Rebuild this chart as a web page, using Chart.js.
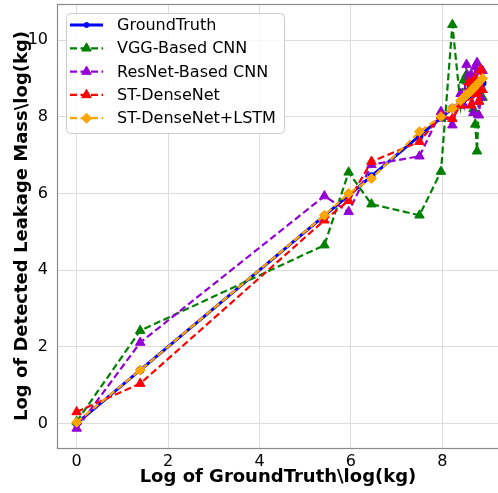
<!DOCTYPE html>
<html>
<head>
<meta charset="utf-8">
<script src="https://cdn.jsdelivr.net/npm/chart.js@4/dist/chart.umd.min.js"></script>
<style>
  html, body { margin: 0; padding: 0; background: #fff; overflow: hidden; }
  #wrap { width: 498px; height: 493px; overflow: hidden; position: relative; }
  /* canvas is a little larger than the view so the plot frame reaches the edges */
  #chart { display: block; position: absolute; left: 0; top: -3px; }
</style>
</head>
<body>
<div id="wrap"><canvas id="chart" width="506" height="496"></canvas></div>
<script>
// log of true leak mass, shared x for every model
const logTruth = [0, 1.39, 5.42, 5.95, 6.45, 7.5, 7.97, 8.22, 8.4, 8.47, 8.53, 8.58, 8.63, 8.68, 8.72, 8.76, 8.8, 8.84, 8.88];

// detected log mass per model
const groundTruth = logTruth.slice();
const vggCnn = [0.05, 2.42, 4.65, 6.55, 5.72, 5.43, 6.57, 10.4, 8.3, 8.95, 9.1, 8.6, 8.8, 8.2, 7.8, 7.1, 8.4, 8.7, 8.5];
const resnetCnn = [-0.13, 2.11, 5.93, 5.52, 6.75, 6.97, 8.13, 7.78, 8.6, 8.3, 9.36, 8.9, 9.1, 8.1, 9.3, 9.41, 8.04, 8.5, 9.2];
const stDenseNet = [0.3, 1.04, 5.3, 5.81, 6.83, 7.35, 8.02, 7.95, 8.3, 8.5, 8.6, 8.9, 8.3, 8.8, 9.0, 8.6, 8.4, 9.22, 8.7];
const stDenseLstm = [0.03, 1.39, 5.43, 6.0, 6.39, 7.61, 8.0, 8.22, 8.42, 8.5, 8.57, 8.62, 8.68, 8.74, 8.8, 8.85, 8.9, 8.95, 9.0];

const seriesNames = ["GroundTruth", "VGG-Based CNN", "ResNet-Based CNN", "ST-DenseNet", "ST-DenseNet+LSTM"];

const xTicks = [0, 2, 4, 6, 8];
const yTicks = [0, 2, 4, 6, 8, 10];

const FONT = "'DejaVu Sans', sans-serif";
const SHIFT = 3; // canvas sits 3px above the view

function pts(ys) {
  return ys.map((y, i) => ({ x: logTruth[i], y: y }));
}

function dashed(label, ys, color, marker, radius, order) {
  return {
    label: label,
    data: pts(ys),
    borderColor: color,
    backgroundColor: color,
    borderWidth: 2.2,
    borderDash: [7, 3.5],
    pointStyle: marker,
    pointRadius: radius,
    pointBorderWidth: 1,
    showLine: true,
    tension: 0,
    order: order
  };
}

// legend drawn inside the plot, upper left
const innerLegend = {
  id: "innerLegend",
  afterDraw(chart) {
    const ctx = chart.ctx;
    const sets = chart.data.datasets;
    const x0 = 66, y0 = 13 + SHIFT, w = 218, h = 120;
    ctx.save();
    ctx.setLineDash([]);
    ctx.beginPath();
    ctx.roundRect(x0 + 0.5, y0 + 0.5, w, h, 4);
    ctx.fillStyle = "rgba(255,255,255,0.8)";
    ctx.fill();
    ctx.strokeStyle = "#cccccc";
    ctx.lineWidth = 1;
    ctx.stroke();
    sets.forEach((ds, i) => {
      const cy = 25 + SHIFT + i * 23.3;
      ctx.beginPath();
      ctx.setLineDash(ds.borderDash || []);
      ctx.strokeStyle = ds.borderColor;
      ctx.lineWidth = ds.borderWidth;
      ctx.moveTo(70, cy);
      ctx.lineTo(103, cy);
      ctx.stroke();
      ctx.setLineDash([]);
      ctx.fillStyle = ds.backgroundColor;
      ctx.strokeStyle = ds.borderColor;
      ctx.lineWidth = 1;
      Chart.helpers.drawPoint(ctx, { pointStyle: ds.pointStyle, radius: ds.pointRadius, rotation: 0, borderWidth: 1 }, 86.5, cy);
      ctx.fillStyle = "#000";
      ctx.font = "16px " + FONT;
      ctx.textBaseline = "middle";
      ctx.textAlign = "left";
      ctx.fillText(ds.label, 117, cy + 1);
    });
    ctx.restore();
  }
};

// axes frame around the plot area
const frame = {
  id: "frame",
  beforeDatasetsDraw(chart) {
    const { left, top, right, bottom } = chart.chartArea;
    const ctx = chart.ctx;
    ctx.save();
    ctx.strokeStyle = "#8a8a8a";
    ctx.lineWidth = 1.2;
    ctx.strokeRect(left + 0.5, top + 0.5, right - left, bottom - top);
    ctx.restore();
  }
};

const ctx = document.getElementById("chart").getContext("2d");
const chart = new Chart(ctx, {
  type: "scatter",
  data: {
    datasets: [
      {
        label: seriesNames[0],
        data: pts(groundTruth),
        borderColor: "#0000ff",
        backgroundColor: "#0000ff",
        borderWidth: 3,
        pointStyle: "circle",
        pointRadius: 2.5,
        showLine: true,
        tension: 0,
        order: 5
      },
      dashed(seriesNames[1], vggCnn, "#008000", "triangle", 5.5, 4),
      dashed(seriesNames[2], resnetCnn, "#9400d3", "triangle", 5.5, 3),
      dashed(seriesNames[3], stDenseNet, "#ff0000", "triangle", 5.5, 2),
      dashed(seriesNames[4], stDenseLstm, "#ffa500", "rectRot", 5, 1)
    ]
  },
  options: {
    responsive: false,
    animation: false,
    devicePixelRatio: 1,
    layout: { padding: 0 },
    plugins: {
      legend: { display: false },
      tooltip: { enabled: false }
    },
    scales: {
      x: {
        type: "linear",
        min: -0.43,
        max: 9.24,
        afterBuildTicks: s => { s.ticks = xTicks.map(v => ({ value: v })); },
        afterFit: s => { s.height = 45; s.paddingLeft = 0; s.paddingRight = 0; },
        grid: { color: "#dcdcdc", lineWidth: 1, drawTicks: false },
        border: { display: false },
        ticks: {
          color: "#000",
          padding: 4,
          font: { family: FONT, size: 16 },
          maxRotation: 0
        },
        title: {
          display: true,
          text: "Log of GroundTruth\\log(kg)",
          color: "#000",
          font: { family: FONT, size: 18, weight: "bold" },
          padding: { top: 0, bottom: 5 }
        }
      },
      y: {
        type: "linear",
        min: -0.64,
        max: 10.94,
        afterBuildTicks: s => { s.ticks = yTicks.map(v => ({ value: v })); },
        afterFit: s => { s.width = 57; s.paddingTop = 0; s.paddingBottom = 0; },
        grid: { color: "#dcdcdc", lineWidth: 1, drawTicks: false },
        border: { display: false },
        ticks: {
          color: "#000",
          padding: 9,
          font: { family: FONT, size: 16 }
        },
        title: {
          display: true,
          text: "Log of Detected Leakage Mass\\log(kg)",
          color: "#000",
          font: { family: FONT, size: 18, weight: "bold" },
          padding: { top: 12, bottom: 0 }
        }
      }
    }
  },
  plugins: [frame, innerLegend]
});
</script>
</body>
</html>
